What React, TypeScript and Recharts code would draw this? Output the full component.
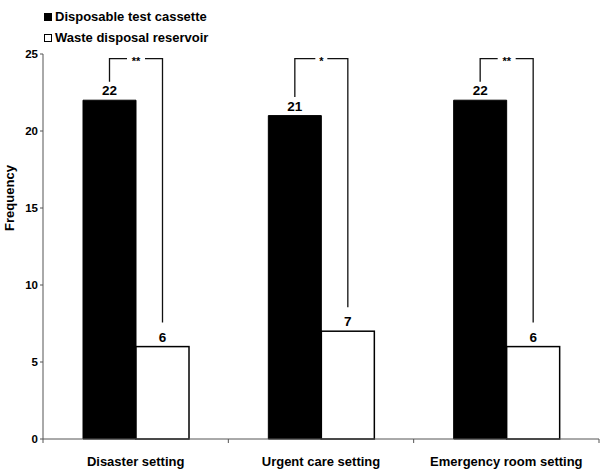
import { BarChart, Bar, XAxis, YAxis, LabelList, Label } from 'recharts'

const settings = ['Disaster setting', 'Urgent care setting', 'Emergency room setting']
const cassette = [22, 21, 22]
const reservoir = [6, 7, 6]
const significance = ['**', '*', '**']
const yTicks = [0, 5, 10, 15, 20, 25]

const data = settings.map((name, i) => ({
  name,
  cassette: cassette[i],
  reservoir: reservoir[i],
  sig: significance[i],
}))

const FONT = '"Liberation Sans", Arial, sans-serif'
const PLOT_LEFT = 43
const PLOT_RIGHT = 599
const BAND = (PLOT_RIGHT - PLOT_LEFT) / settings.length

// white bar + the significance bracket over the pair
function ReservoirShape(props: any) {
  const { x, y, width, height, value, payload } = props
  const base = y + height
  const ppu = height / value
  const top = base - 24.7 * ppu
  const lx = x - width / 2
  const rx = x + width / 2
  const ly = base - (payload.cassette + 1.2) * ppu
  const ry = y - 24
  const mid = (lx + rx) / 2
  const gap = payload.sig.length > 1 ? 9 : 6
  return (
    <g>
      <rect x={x} y={y} width={width} height={height} fill="#fff" stroke="#000" strokeWidth={1.5} />
      <path
        d={`M${lx},${ly} L${lx},${top} L${mid - gap},${top} M${mid + gap},${top} L${rx},${top} L${rx},${ry}`}
        fill="none"
        stroke="#111"
        strokeWidth={1.3}
      />
      <text x={mid} y={top + 6} textAnchor="middle" fontSize={11} fontWeight="bold" fontFamily={FONT} fill="#000">
        {payload.sig}
      </text>
    </g>
  )
}

function CategoryTick(props: any) {
  const { x, y, payload, index } = props
  return (
    <g>
      <line x1={x - BAND / 2} y1={y - 8} x2={x - BAND / 2} y2={y - 4} stroke="#555" />
      {index === settings.length - 1 && <line x1={x + BAND / 2} y1={y - 8} x2={x + BAND / 2} y2={y - 4} stroke="#555" />}
      <text x={x} y={y + 19} textAnchor="middle" fontSize={13} fontWeight="bold" fontFamily={FONT} fill="#000">
        {payload.value}
      </text>
    </g>
  )
}

function LegendBox() {
  const item = (label: string, fill: string) => (
    <div style={{ display: 'flex', alignItems: 'center', height: 21 }}>
      <span style={{ display: 'inline-block', width: 6, height: 6, background: fill, border: '1.5px solid #000', marginRight: 3 }} />
      <span>{label}</span>
    </div>
  )
  return (
    <div style={{ position: 'absolute', left: 44, top: 6, fontFamily: FONT, fontWeight: 'bold', fontSize: 13, color: '#000' }}>
      {item('Disposable test cassette', '#000')}
      {item('Waste disposal reservoir', '#fff')}
    </div>
  )
}

export default function App() {
  return (
    <div style={{ position: 'absolute', left: 0, top: 0, width: 600, height: 475, background: '#fff' }}>
      <BarChart
        width={600}
        height={475}
        data={data}
        margin={{ top: 54, right: 600 - PLOT_RIGHT, left: 8, bottom: 6 }}
        barGap={0}
        barCategoryGap={40}
      >
        <XAxis
          dataKey="name"
          axisLine={{ stroke: '#555' }}
          tickLine={false}
          height={30}
          tick={<CategoryTick />}
          interval={0}
        />
        <YAxis
          domain={[0, 25]}
          ticks={yTicks}
          width={35}
          axisLine={{ stroke: '#555' }}
          tickLine={{ stroke: '#555' }}
          tickSize={3}
          tick={{ fontSize: 11.5, fontWeight: 'bold', fontFamily: FONT, fill: '#000' }}
        >
          <Label
            content={() => (
              <text
                x={14}
                y={198}
                transform="rotate(-90 14 198)"
                textAnchor="middle"
                fontSize={13}
                fontWeight="bold"
                fontFamily={FONT}
                fill="#000"
              >
                Frequency
              </text>
            )}
          />
        </YAxis>
        <Bar dataKey="cassette" fill="#000" stroke="#000" isAnimationActive={false}>
          <LabelList dataKey="cassette" position="top" offset={5} fontSize={13.5} fontWeight="bold" fontFamily={FONT} fill="#000" />
        </Bar>
        <Bar dataKey="reservoir" fill="#fff" shape={<ReservoirShape />} isAnimationActive={false}>
          <LabelList dataKey="reservoir" position="top" offset={5} fontSize={13.5} fontWeight="bold" fontFamily={FONT} fill="#000" />
        </Bar>
      </BarChart>
      <LegendBox />
    </div>
  )
}
